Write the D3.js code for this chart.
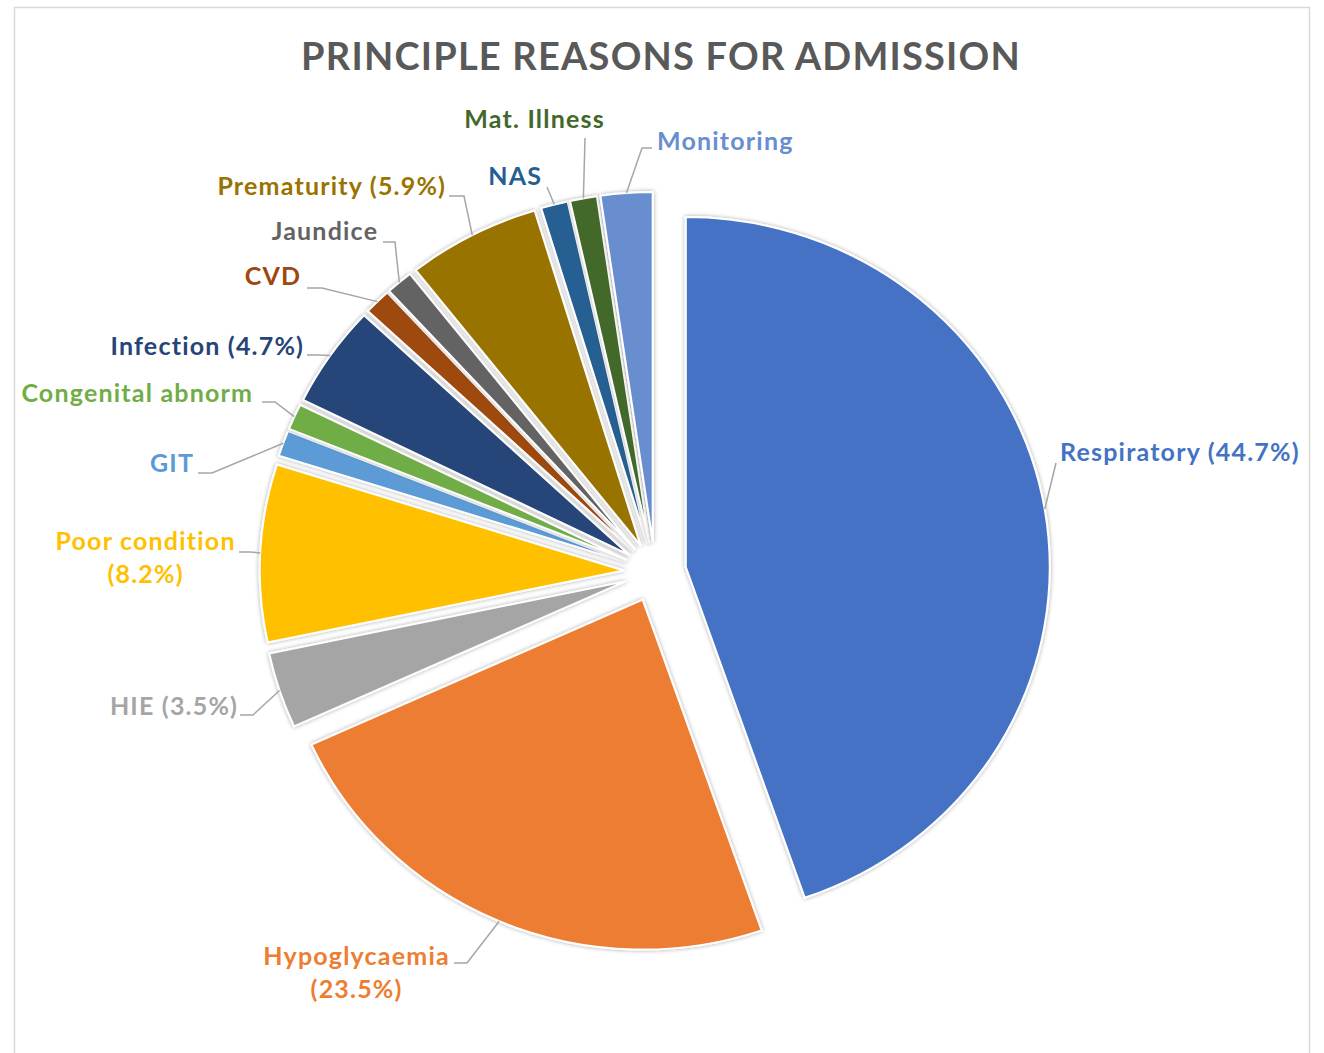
<!DOCTYPE html>
<html>
<head>
<meta charset="utf-8">
<script src="https://cdn.jsdelivr.net/npm/d3@7"></script>
<style>
  body { margin: 0; background: #ffffff; }
  svg text { font-family: Lato, "Open Sans", "DejaVu Sans", sans-serif; font-weight: 700; }
</style>
</head>
<body>
<svg id="chart" width="1324" height="1053"></svg>
<script>
// ---- data ----
const categories = ["Respiratory", "Hypoglycaemia", "HIE", "Poor condition", "GIT",
  "Congenital abnorm", "Infection", "CVD", "Jaundice", "Prematurity", "NAS",
  "Mat. Illness", "Monitoring"];
const shares = [44.7, 23.5, 3.5, 8.2, 1.2, 1.2, 4.7, 1.2, 1.2, 5.9, 1.2, 1.2, 2.3];
// slices whose label also carries the percentage
const showPercent = [true, true, true, true, false, false, true, false, false, true, false, false, false];
const chartTitle = "PRINCIPLE REASONS FOR ADMISSION";

// ---- styles ----
const colors = ["#4472C4", "#ED7D31", "#A5A5A5", "#FFC000", "#5B9BD5", "#70AD47",
  "#264478", "#9E480E", "#636363", "#997300", "#255E91", "#43682B", "#698ED0"];

// ---- layout ----
const W = 1324, H = 1053;
const cx = 655, cy = 572;      // pie centre
const radius = 350;
const xStretch = 1.04;         // pie is drawn slightly wider than tall
const explode = 30;            // every slice is pulled out by this distance
const labelSize = 25;
const labelSpacing = 1.2;

// label placement: text anchor/baselines plus the leader elbow points (arc end is computed)
const labelLayout = {
  "Respiratory":       { x: 1060, y: [461], anchor: "start",  split: false, leader: [[1056, 463]] },
  "Hypoglycaemia":     { x: 356,  y: [965, 998], anchor: "middle", split: true, leader: [[454, 963], [467, 963]] },
  "HIE":               { x: 237,  y: [715], anchor: "end",    split: false, leader: [[240, 715], [253, 715]] },
  "Poor condition":    { x: 145,  y: [550, 583], anchor: "middle", split: true, leader: [[239, 552], [250, 552]] },
  "GIT":               { x: 193,  y: [472], anchor: "end",    split: false, leader: [[198, 473], [212, 473]] },
  "Congenital abnorm": { x: 252,  y: [402], anchor: "end",    split: false, leader: [[262, 402], [275, 402]] },
  "Infection":         { x: 303,  y: [355], anchor: "end",    split: false, leader: [[307, 355], [318, 355]] },
  "CVD":               { x: 300,  y: [285], anchor: "end",    split: false, leader: [[307, 288], [322, 288]] },
  "Jaundice":          { x: 377,  y: [240], anchor: "end",    split: false, leader: [[383, 242], [395, 242]] },
  "Prematurity":       { x: 445,  y: [195], anchor: "end",    split: false, leader: [[449, 196], [464, 196]] },
  "NAS":               { x: 541,  y: [185], anchor: "end",    split: false, leader: [[547, 187]] },
  "Mat. Illness":      { x: 534,  y: [128], anchor: "middle", split: false, leader: [[585, 138]] },
  "Monitoring":        { x: 657,  y: [150], anchor: "start",  split: false, leader: [[652, 148], [642, 148]] }
};

const svg = d3.select("#chart");

// chart area frame
svg.append("rect")
  .attr("x", 14.5).attr("y", 7.5)
  .attr("width", 1295).attr("height", 1100)
  .attr("fill", "#ffffff")
  .attr("stroke", "#D9D9D9").attr("stroke-width", 1.5);

// soft outer shadow for the slices
const defs = svg.append("defs");
const shadow = defs.append("filter").attr("id", "sliceShadow")
  .attr("x", "-20%").attr("y", "-20%").attr("width", "140%").attr("height", "140%");
shadow.append("feDropShadow")
  .attr("dx", 0).attr("dy", 0).attr("stdDeviation", 2.2)
  .attr("flood-color", "#000").attr("flood-opacity", 0.35);

// title
svg.append("text")
  .attr("x", 661).attr("y", 70)
  .attr("text-anchor", "middle")
  .attr("font-size", 38)
  .attr("letter-spacing", 1.2)
  .attr("fill", "#595959")
  .text(chartTitle);

const records = categories.map((c, i) => ({ name: c, value: shares[i], color: colors[i], pct: showPercent[i] }));

const pie = d3.pie().sort(null).value(d => d.value).startAngle(0).endAngle(2 * Math.PI);
const arcs = pie(records);
const arcGen = d3.arc().innerRadius(0).outerRadius(radius);

const offset = a => {
  const mid = (a.startAngle + a.endAngle) / 2;
  return [explode * Math.sin(mid), -explode * Math.cos(mid)];
};

const pieG = svg.append("g")
  .attr("transform", `translate(${cx},${cy}) scale(${xStretch},1)`);

pieG.selectAll("path.slice")
  .data(arcs)
  .join("path")
  .attr("class", "slice")
  .attr("d", arcGen)
  .attr("transform", a => { const o = offset(a); return `translate(${o[0]},${o[1]})`; })
  .attr("fill", a => a.data.color)
  .attr("stroke", "#ffffff")
  .attr("stroke-width", 2)
  .attr("stroke-linejoin", "round")
  .attr("filter", "url(#sliceShadow)");

// point on the middle of each slice's outer rim, in page coordinates
const rimPoint = a => {
  const mid = (a.startAngle + a.endAngle) / 2;
  const o = offset(a);
  const lx = radius * Math.sin(mid) + o[0];
  const ly = -radius * Math.cos(mid) + o[1];
  return [cx + xStretch * lx, cy + ly];
};

// leader lines
const line = d3.line();
svg.append("g").selectAll("path.leader")
  .data(arcs)
  .join("path")
  .attr("class", "leader")
  .attr("d", a => line(labelLayout[a.data.name].leader.concat([rimPoint(a)])))
  .attr("fill", "none")
  .attr("stroke", "#A6A6A6")
  .attr("stroke-width", 1.5);

// data labels
const labelG = svg.append("g");
arcs.forEach(a => {
  const L = labelLayout[a.data.name];
  const pctText = `(${d3.format(".1f")(a.data.value)}%)`;
  let lines;
  if (!a.data.pct) lines = [a.data.name];
  else if (L.split) lines = [a.data.name, pctText];
  else lines = [`${a.data.name} ${pctText}`];
  lines.forEach((t, k) => {
    // trailing letter-spacing shifts end/middle anchors; compensate
    const shift = L.anchor === "end" ? labelSpacing : (L.anchor === "middle" ? labelSpacing / 2 : 0);
    labelG.append("text")
      .attr("x", L.x + shift)
      .attr("y", L.y[k])
      .attr("text-anchor", L.anchor)
      .attr("font-size", labelSize)
      .attr("letter-spacing", labelSpacing)
      .attr("fill", a.data.color)
      .text(t);
  });
});
</script>
</body>
</html>
